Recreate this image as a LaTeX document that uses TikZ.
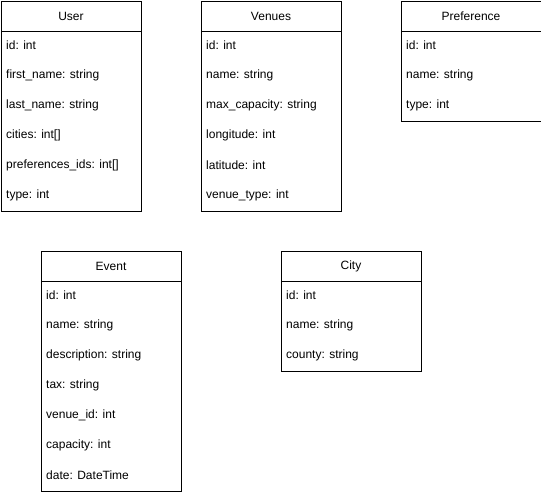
\documentclass[tikz,border=0pt]{standalone}
\usepackage{fontspec}
\setmainfont{Liberation Sans}
\begin{document}
\begin{tikzpicture}[x=1pt,y=-1pt,
  hdr/.style={draw, line width=1pt, minimum width=140pt, minimum height=30pt, inner sep=0pt, anchor=north west, font=\fontsize{12}{14}\selectfont},
  bodybox/.style={draw, line width=1pt, minimum width=140pt, inner sep=0pt, anchor=north west},
  fld/.style={anchor=west, inner sep=0pt, font=\fontsize{12}{14}\selectfont}]
\useasboundingbox (0,0) rectangle (541,491);
% User
\node[hdr] (userh) at (0.5,0.5) {User};
\node[bodybox, minimum height=180pt] (userb) at (0.5,30.5) {};
\foreach \t [count=\i from 0] in {id: int, first\_name: string, last\_name: string, cities: int[], preferences\_ids: int[], type: int}
  \node[fld] (userf\i) at (6,45+30*\i) {\t};
% Venues
\node[hdr] (venh) at (200.5,0.5) {Venues};
\node[bodybox, minimum height=180pt] (venb) at (200.5,30.5) {};
\foreach \t [count=\i from 0] in {id: int, name: string, max\_capacity: string, longitude: int, latitude: int, venue\_type: int}
  \node[fld] (venf\i) at (206,45+30*\i) {\t};
% Preference
\node[hdr] (prefh) at (400.5,0.5) {Preference};
\node[bodybox, minimum height=90pt] (prefb) at (400.5,30.5) {};
\foreach \t [count=\i from 0] in {id: int, name: string, type: int}
  \node[fld] (preff\i) at (406,45+30*\i) {\t};
% Event
\node[hdr] (evh) at (40.5,250.5) {Event};
\node[bodybox, minimum height=210pt] (evb) at (40.5,280.5) {};
\foreach \t [count=\i from 0] in {id: int, name: string, description: string, tax: string, venue\_id: int, capacity: int, date: DateTime}
  \node[fld] (evf\i) at (46,295+30*\i) {\t};
% City
\node[hdr] (cityh) at (280.5,250.5) {City};
\node[bodybox, minimum height=90pt] (cityb) at (280.5,280.5) {};
\foreach \t [count=\i from 0] in {id: int, name: string, county: string}
  \node[fld] (cityf\i) at (286,295+30*\i) {\t};
\end{tikzpicture}
\end{document}
